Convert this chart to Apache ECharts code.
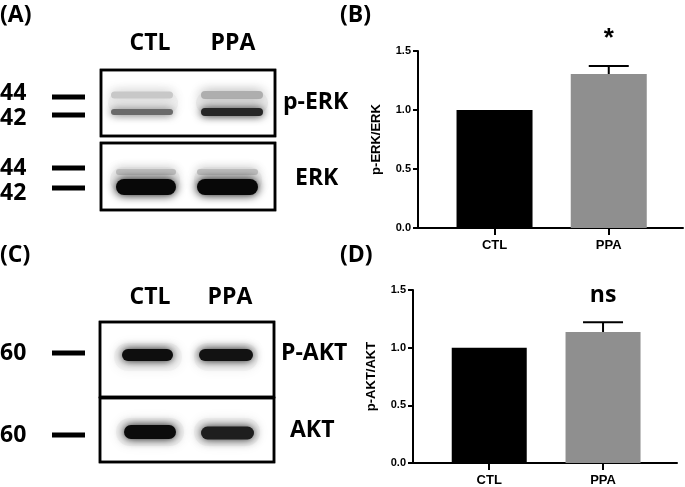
<!DOCTYPE html>
<html>
<head>
<meta charset="utf-8">
<script src="https://cdn.jsdelivr.net/npm/echarts@6/dist/echarts.min.js"></script>
<style>
html,body{margin:0;padding:0;background:#fff;}
#chartmain{width:685px;height:487px;}
</style>
</head>
<body>
<div id="chartmain"></div>
<script>
// groups and values
var groups = ['CTL', 'PPA'];
var erkMean = [1.0, 1.305];
var erkErr = [0, 0.068];
var erkSig = ['', '*'];
var aktMean = [1.0, 1.136];
var aktErr = [0, 0.084];
var aktSig = ['', 'ns'];
var yTicks = [0, 0.5, 1.0, 1.5];

// where the two bars sit along the x axis (layout only)
var xPos = [0.67, 1.67];

var blotFont = 'bold 23px "Open Sans"';

function nameOf(v) {
    for (var i = 0; i < xPos.length; i++) {
        if (Math.abs(v - xPos[i]) < 0.01) return groups[i];
    }
    return '';
}

function barData(vals) {
    return vals.map(function (v, i) { return [xPos[i], v]; });
}
function errData(m, e, s) {
    return m.map(function (v, i) { return [xPos[i], v, e[i], s[i]]; });
}

var errSigs = {};
errSigs[4] = erkSig;
errSigs[5] = aktSig;

function errRender(params, api) {
    var x = api.value(0), m = api.value(1), e = api.value(2);
    var sig = errSigs[params.seriesIndex][params.dataIndex];
    if (!e) return null;
    var base = api.coord([x, m]);
    var top = api.coord([x, m + e]);
    return {
        type: 'group',
        children: [
            {type: 'line', shape: {x1: top[0], y1: base[1], x2: top[0], y2: top[1]}, style: {stroke: '#000', lineWidth: 2}},
            {type: 'line', shape: {x1: top[0] - 20, y1: top[1], x2: top[0] + 20, y2: top[1]}, style: {stroke: '#000', lineWidth: 2}},
            {type: 'text', style: {text: sig, x: top[0], y: top[1] - 27, align: 'center', verticalAlign: 'middle',
                font: sig === '*' ? 'bold 26px "Liberation Sans"' : 'bold 23px "Open Sans"', fill: '#000'}}
        ]
    };
}

function xAxisOf(gi) {
    return {
        type: 'value', gridIndex: gi, min: 0, max: 2.32,
        splitLine: {show: false},
        axisLine: {show: true, lineStyle: {color: '#000', width: 2}},
        axisTick: {show: true, customValues: xPos, length: 7, lineStyle: {color: '#000', width: 2}},
        axisLabel: {customValues: xPos, margin: 11, formatter: nameOf,
            fontFamily: 'Liberation Sans', fontWeight: 'bold', fontSize: 13, color: '#000'}
    };
}
function yAxisOf(gi, name) {
    return {
        type: 'value', gridIndex: gi, min: 0, max: 1.5, interval: 0.5,
        name: name, nameLocation: 'middle', nameRotate: 90, nameGap: 35,
        nameTextStyle: {fontFamily: 'Liberation Sans', fontWeight: 'bold', fontSize: 13, color: '#000'},
        splitLine: {show: false},
        axisLine: {show: true, lineStyle: {color: '#000', width: 2}},
        axisTick: {show: true, length: 5, lineStyle: {color: '#000', width: 2}},
        axisLabel: {margin: 7, fontFamily: 'Liberation Sans', fontWeight: 'bold', fontSize: 11, color: '#000',
            formatter: function (v) { return v.toFixed(1); }}
    };
}

// blot drawing helpers
function txt(s, x, y, align) {
    return {type: 'text', style: {text: s, x: x, y: y, align: align || 'left', verticalAlign: 'middle', font: blotFont, fill: '#000'}};
}
function box(x, y, w, h) {
    return {type: 'rect', shape: {x: x, y: y, width: w, height: h}, style: {fill: '#fff', stroke: '#000', lineWidth: 2.5}};
}
function frame(x, y, w, h) {
    return {type: 'rect', shape: {x: x, y: y, width: w, height: h}, style: {fill: 'none', stroke: '#000', lineWidth: 2.5}};
}
function dash(y) {
    return {type: 'rect', shape: {x: 52, y: y - 2.5, width: 33, height: 5}, style: {fill: '#000'}};
}
function band(x1, x2, cy, h, col, blur) {
    return {type: 'rect', shape: {x: x1 + 4, y: cy - h / 2, width: x2 - x1 - 8, height: h, r: h / 2},
        style: {fill: col, shadowColor: col, shadowBlur: blur}};
}

var blot = [
    {type: 'text', style: {text: '(A)', x: 0, y: 15, verticalAlign: 'middle', font: blotFont, fill: '#000'}},
    {type: 'text', style: {text: '(B)', x: 340, y: 15, verticalAlign: 'middle', font: blotFont, fill: '#000'}},
    {type: 'text', style: {text: '(C)', x: 0, y: 255, verticalAlign: 'middle', font: blotFont, fill: '#000'}},
    {type: 'text', style: {text: '(D)', x: 340, y: 255, verticalAlign: 'middle', font: blotFont, fill: '#000'}},
    txt('CTL', 150, 43, 'center'), txt('PPA', 233, 43, 'center'),
    txt('CTL', 150, 297, 'center'), txt('PPA', 230, 297, 'center'),
    box(101, 70, 174, 66), box(101, 143, 174, 67),
    box(100, 322, 174, 75), box(100, 398, 174, 64),
    // faint lane haze
    band(104, 182, 103, 22, '#f0f0f0', 12), band(192, 272, 103, 22, '#ececec', 12),
    band(106, 184, 180, 26, '#eeeeee', 12), band(190, 266, 180, 26, '#eeeeee', 12),
    band(110, 186, 357, 28, '#f2f2f2', 12), band(190, 262, 357, 28, '#f2f2f2', 12),
    band(112, 188, 432, 28, '#f0f0f0', 12), band(190, 264, 432, 28, '#f0f0f0', 12),
    // p-ERK
    band(107, 177, 95, 7, '#c8c8c8', 12), band(197, 267, 95, 8, '#aeaeae', 12),
    band(107, 177, 112, 6, '#6a6a6a', 9), band(197, 267, 112, 8, '#262626', 9),
    // ERK
    band(112, 180, 172, 6, '#bdbdbd', 10), band(193, 262, 172, 6, '#bdbdbd', 10),
    band(112, 180, 187, 16, '#080808', 10), band(193, 262, 187, 16, '#080808', 10),
    // P-AKT
    band(118, 177, 355, 12, '#0e0e0e', 10), band(195, 257, 355, 12, '#121212', 10),
    // AKT
    band(120, 180, 432, 14, '#0c0c0c', 10), band(197, 258, 433, 13, '#1e1e1e', 10),
    frame(101, 70, 174, 66), frame(101, 143, 174, 67),
    frame(100, 322, 174, 75), frame(100, 398, 174, 64),
    txt('44', 0, 93), txt('42', 0, 118), txt('44', 0, 168), txt('42', 0, 193),
    txt('60', 0, 353), txt('60', 0, 435),
    dash(97), dash(115), dash(168), dash(188), dash(353), dash(435),
    txt('p-ERK', 283, 102), txt('ERK', 295, 178),
    txt('P-AKT', 281, 353), txt('AKT', 290, 430)
];

var option = {
    animation: false,
    backgroundColor: '#fff',
    graphic: blot,
    grid: [
        {left: 418, top: 51, width: 265, height: 177},
        {left: 413, top: 290, width: 264, height: 177}
    ],
    xAxis: [xAxisOf(0), xAxisOf(1)],
    yAxis: [yAxisOf(0, 'p-ERK/ERK'), yAxisOf(1, 'p-AKT/AKT')],
    series: [
        {type: 'bar', xAxisIndex: 0, yAxisIndex: 0, barWidth: 76, data: [barData(erkMean)[0]], itemStyle: {color: '#000'}},
        {type: 'bar', xAxisIndex: 0, yAxisIndex: 0, barWidth: 76, barGap: '-100%', data: [barData(erkMean)[1]], itemStyle: {color: '#8f8f8f'}},
        {type: 'bar', xAxisIndex: 1, yAxisIndex: 1, barWidth: 75, data: [barData(aktMean)[0]], itemStyle: {color: '#000'}},
        {type: 'bar', xAxisIndex: 1, yAxisIndex: 1, barWidth: 75, barGap: '-100%', data: [barData(aktMean)[1]], itemStyle: {color: '#8f8f8f'}},
        {type: 'custom', xAxisIndex: 0, yAxisIndex: 0, renderItem: errRender, data: errData(erkMean, erkErr, erkSig), z: 5},
        {type: 'custom', xAxisIndex: 1, yAxisIndex: 1, renderItem: errRender, data: errData(aktMean, aktErr, aktSig), z: 5}
    ]
};

var myChart = echarts.init(document.getElementById('chartmain'));
myChart.setOption(option);
</script>
</body>
</html>
